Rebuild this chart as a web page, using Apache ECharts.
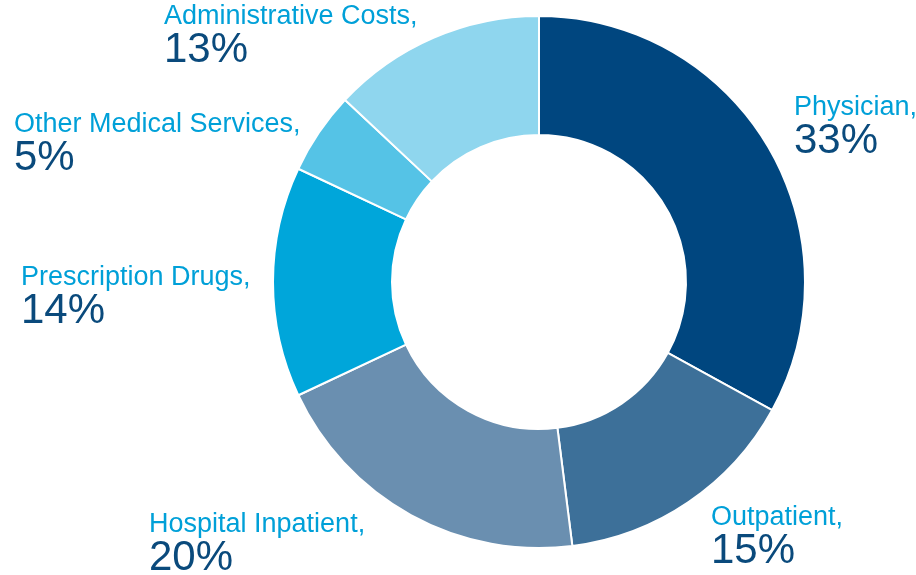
<!DOCTYPE html>
<html><head><meta charset="utf-8">
<script src="https://cdn.jsdelivr.net/npm/echarts@6/dist/echarts.min.js"></script>
<style>html,body{margin:0;padding:0;background:#fff}#c{width:916px;height:575px}</style>
</head><body><div id="c"></div>
<script>
const categories = ['Physician', 'Outpatient', 'Hospital Inpatient', 'Prescription Drugs', 'Other Medical Services', 'Administrative Costs'];
const values = [33, 15, 20, 14, 5, 13];
const colors = ['#00467F', '#3D7099', '#6A8FB0', '#00A6DA', '#55C3E6', '#8FD6EE'];
// label anchor (top-left) positions per slice
const labelPos = [[794, 93], [711, 503], [149, 510], [21, 263], [14, 110], [164, 2]];

const chart = echarts.init(document.getElementById('c'));
chart.setOption({
  animation: false,
  series: [{
    type: 'pie',
    center: [539, 282],
    radius: [147, 266],
    startAngle: 90,
    clockwise: true,
    itemStyle: { borderColor: '#fff', borderWidth: 2 },
    data: categories.map((n, i) => ({ name: n, value: values[i], itemStyle: { color: colors[i] } })),
    label: {
      show: true,
      position: 'outside',
      overflow: 'none',
      formatter: p => '{n|' + p.name + ',}\n{v|' + p.value + '%}',
      rich: {
        n: { fontFamily: 'Liberation Sans', fontSize: 27, color: '#00A0D8', lineHeight: 29 },
        v: { fontFamily: 'Liberation Sans', fontSize: 42, color: '#0A4A7C', lineHeight: 38 }
      }
    },
    labelLine: { show: false },
    labelLayout: p => ({ x: labelPos[p.dataIndex][0], y: labelPos[p.dataIndex][1], align: 'left', verticalAlign: 'top', width: 300 })
  }]
});
</script></body></html>
